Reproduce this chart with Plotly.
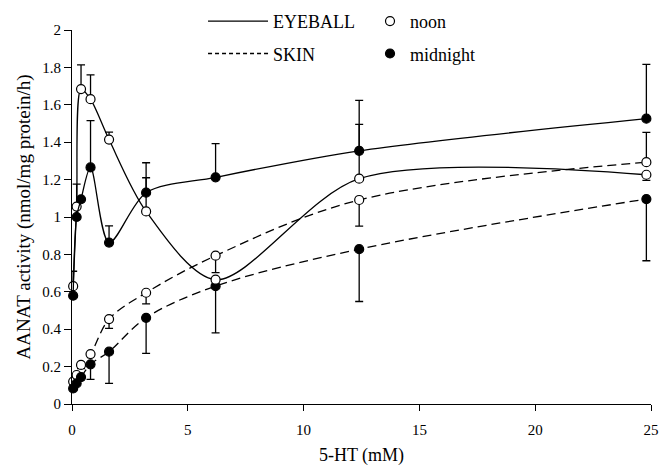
import plotly.graph_objects as go

# 5-HT concentrations (mM)
conc = [0.05, 0.2, 0.39, 0.8, 1.6, 3.2, 6.2, 12.4, 24.8]

eye_noon = [0.63, 1.056, 1.684, 1.63, 1.414, 1.03, 0.665, 1.205, 1.226]
eye_noon_up = [0.08, 0.12, 0.13, 0.13, 0.04, 0.18, 0, 0.29, 0]
eye_noon_dn = [0, 0, 0, 0, 0, 0, 0, 0, 0.03]

eye_mid = [0.579, 1.0, 1.095, 1.265, 0.863, 1.13, 1.212, 1.354, 1.526]
eye_mid_up = [0, 0, 0, 0.25, 0.09, 0.16, 0.18, 0.27, 0.29]
eye_mid_dn = [0, 0, 0, 0, 0, 0, 0, 0, 0]

skin_noon = [0.12, 0.155, 0.209, 0.267, 0.454, 0.595, 0.793, 1.091, 1.293]
skin_noon_up = [0, 0, 0, 0, 0, 0, 0, 0, 0.16]
skin_noon_dn = [0, 0, 0.02, 0, 0.05, 0.06, 0.09, 0.14, 0]

skin_mid = [0.083, 0.11, 0.144, 0.212, 0.28, 0.461, 0.63, 0.828, 1.096]
skin_mid_up = [0, 0, 0, 0, 0, 0, 0, 0, 0]
skin_mid_dn = [0, 0, 0, 0.08, 0.17, 0.19, 0.25, 0.28, 0.33]

y_ticks = [0, 0.2, 0.4, 0.6, 0.8, 1, 1.2, 1.4, 1.6, 1.8, 2]
y_labels = ["0", "0.2", "0.4", "0.6", "0.8", "1", "1.2", "1.4", "1.6", "1.8", "2"]
x_ticks = [0, 5, 10, 15, 20, 25]

FONT = "Liberation Serif, Times New Roman, serif"

fig = go.Figure()

def add_series(y, up, dn, dash, filled, smooth):
    fig.add_trace(go.Scatter(
        x=conc, y=y, mode="lines+markers",
        line=dict(color="black", width=1.3, dash=dash, shape="spline", smoothing=smooth),
        marker=dict(size=9, color="black" if filled else "white",
                    line=dict(color="black", width=1.2)),
        error_y=dict(type="data", symmetric=False, array=up, arrayminus=dn,
                     color="black", thickness=1.3, width=4),
        cliponaxis=False, showlegend=False, hoverinfo="skip",
    ))

add_series(skin_noon, skin_noon_up, skin_noon_dn, "9px,5px", False, 1)
add_series(skin_mid, skin_mid_up, skin_mid_dn, "9px,5px", True, 1)
add_series(eye_noon, eye_noon_up, eye_noon_dn, "solid", False, 0.85)
add_series(eye_mid, eye_mid_up, eye_mid_dn, "solid", True, 0.85)

# legend entries
fig.add_trace(go.Scatter(x=[None], y=[None], mode="lines", name="EYEBALL",
                         line=dict(color="black", width=1.3), legend="legend", legendgroup="a"))
fig.add_trace(go.Scatter(x=[None], y=[None], mode="lines", name="SKIN",
                         line=dict(color="black", width=1.3, dash="4px,3px"), legend="legend", legendgroup="b"))
fig.add_trace(go.Scatter(x=[None], y=[None], mode="markers", name="noon",
                         marker=dict(size=9, color="white", line=dict(color="black", width=1.2)),
                         legend="legend2", legendgroup="c"))
fig.add_trace(go.Scatter(x=[None], y=[None], mode="markers", name="midnight",
                         marker=dict(size=9, color="black", line=dict(color="black", width=1.2)),
                         legend="legend2", legendgroup="d"))

legend_common = dict(font=dict(family=FONT, size=18, color="black"), bgcolor="rgba(0,0,0,0)",
                     tracegroupgap=6, yanchor="top", xanchor="left")
fig.update_layout(
    width=660, height=472,
    margin=dict(l=72, r=9, t=30, b=62),
    paper_bgcolor="white", plot_bgcolor="white",
    font=dict(family=FONT, size=15, color="black"),
    legend=dict(x=0.2263, y=1.0725, itemwidth=60, **legend_common),
    legend2=dict(x=0.5147, y=1.0725, **legend_common),
    xaxis=dict(range=[0, 25], tickvals=x_ticks, showgrid=False, zeroline=False, automargin=False,
               showline=True, linecolor="black", linewidth=1.2, ticks="outside",
               ticklen=6, tickcolor="black", tickfont=dict(size=15, color="black"),
               ticklabelstandoff=6,
               title=dict(text="5-HT (mM)", font=dict(family=FONT, size=18, color="black"), standoff=23)),
    yaxis=dict(range=[0, 2], tickvals=y_ticks, ticktext=y_labels, showgrid=False, zeroline=False,
               automargin=False,
               showline=True, linecolor="black", linewidth=1.2, ticks="outside",
               ticklen=7, tickcolor="black", tickfont=dict(size=15, color="black"),
               title=dict(text="AANAT activity (nmol/mg protein/h)",
                          font=dict(family=FONT, size=19, color="black"), standoff=6)),
)

fig.write_html("out.html", config={"displayModeBar": False},
               post_script="document.body.style.margin='-6px 0 0 0';")
